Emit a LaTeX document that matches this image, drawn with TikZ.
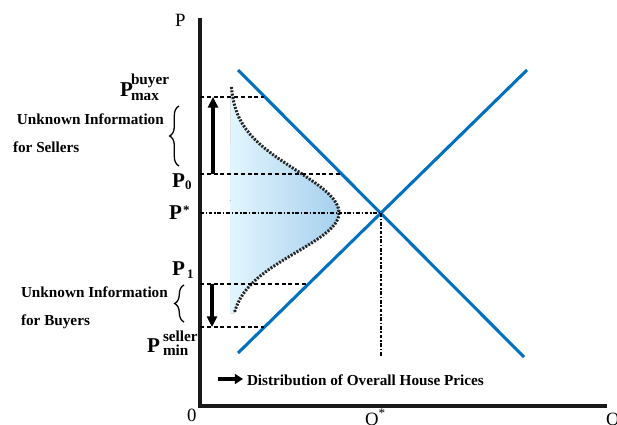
\documentclass[tikz,border=0pt]{standalone}
\usepackage{fontspec}
\setmainfont{Liberation Serif}
\usetikzlibrary{arrows.meta,decorations.pathreplacing}
\definecolor{lineblue}{RGB}{0,112,192}
\definecolor{bellleft}{RGB}{226,245,253}
\definecolor{bellright}{RGB}{165,208,238}
\definecolor{belldot}{RGB}{35,35,35}
\begin{document}
\begin{tikzpicture}[x=0.03cm,y=-0.03cm,
  every node/.style={inner sep=0pt,outer sep=0pt},
  axis/.style={line width=2.8pt,draw=black!90},
  sdline/.style={line width=2.6pt,draw=lineblue},
  guide/.style={line width=1.3pt,dash pattern=on 3.4pt off 2.4pt},
  dashdot/.style={line width=1.4pt,dash pattern=on 3.2pt off 1.5pt on 1.2pt off 1.5pt},
  bell/.style={line width=2.6pt,draw=belldot,dash pattern=on 1.6pt off 1.3pt},
  move/.style={line width=3pt,-{Triangle[length=9pt,width=8.5pt]}},
  bracket/.style={line width=1.1pt,decorate,decoration={brace,amplitude=8pt}},
  axlbl/.style={font=\fontsize{16}{18}\selectfont},
  plbl/.style={font=\fontsize{18}{20}\selectfont\bfseries},
  scrpt/.style={font=\fontsize{13}{15}\selectfont\bfseries},
  idx/.style={font=\fontsize{11}{13}\selectfont\bfseries},
  info/.style={font=\fontsize{13}{15}\selectfont\bfseries}]
\useasboundingbox (0,0) rectangle (617,425);

% axes
\coordinate (orig) at (200,406);
\coordinate (ptop) at (200,18);
\coordinate (qend) at (607,406);
\draw[axis] (ptop) -- (orig) -- (qend);
\node[axlbl,anchor=base west] (plab) at (175,27) {P};
\node[axlbl,anchor=base west] (zero) at (187,421) {0};
\node[axlbl,anchor=base west] (qstar) at (365,425) {Q\textsuperscript{*}};
\node[axlbl,anchor=base west] (qlab) at (606,425) {Q};

% distribution of prices
\fill[left color=bellleft,right color=bellright] (231,87)
  -- plot[domain=87:213,samples=60,smooth] ({230+109*exp(-(\x-213)*(\x-213)/3666)},\x)
  -- plot[domain=213:313,samples=50,smooth] ({230+109*exp(-(\x-213)*(\x-213)/3100)},\x)
  -- (230,313) -- cycle;
\draw[bell] plot[domain=87:213,samples=60,smooth] ({230+109*exp(-(\x-213)*(\x-213)/3666)},\x);
\draw[bell] plot[domain=213:313,samples=50,smooth] ({230+109*exp(-(\x-213)*(\x-213)/3100)},\x);

% demand and supply
\coordinate (d1) at (238,70);
\coordinate (d2) at (524,357);
\coordinate (s1) at (238,353);
\coordinate (s2) at (527,70);
\coordinate (eq) at (intersection of d1--d2 and s1--s2);
\coordinate (eqbase) at (eq |- 0,357);
\draw[sdline] (d1) -- (d2);
\draw[sdline] (s1) -- (s2);

% price levels
\coordinate (pmax) at (200,97);
\coordinate (pmaxend) at (264,97);
\coordinate (pzero) at (200,174);
\coordinate (pzeroend) at (340,174);
\coordinate (pstar) at (eq -| orig);
\coordinate (pone) at (200,284);
\coordinate (poneend) at (307,284);
\coordinate (pmin) at (200,327);
\coordinate (pminend) at (264,327);
\draw[guide] (pmax) -- (pmaxend);
\draw[guide] (pzero) -- (pzeroend);
\draw[guide] (pone) -- (poneend);
\draw[guide] (pmin) -- (pminend);
\draw[dashdot] (pstar) -- (eq);
\draw[dashdot,line width=1.3pt] (eq) -- (eqbase);

% moves
\coordinate (upfrom) at (213,174);
\coordinate (upto) at (213,97);
\coordinate (dnfrom) at (212,284);
\coordinate (dnto) at (212,327);
\draw[move] (upfrom) -- (upto);
\draw[move] (dnfrom) -- (dnto);

% price labels
\node[plbl,anchor=base west] (pmaxp) at (120,97) {P};
\node[scrpt,anchor=base west] (pmaxsup) at (131,85) {buyer};
\node[scrpt,anchor=base west] (pmaxsub) at (131,101) {max};
\node[plbl,anchor=base west] (pzerop) at (172,187) {P};
\node[idx,anchor=base west] (pzerosub) at (185,189) {0};
\node[plbl,anchor=base west] (pstarp) at (169,219) {P};
\node[idx,anchor=base west] (pstarsup) at (183,214) {*};
\node[plbl,anchor=base west] (ponep) at (172,275) {P};
\node[idx,anchor=base west] (ponesub) at (187,278) {1};
\node[plbl,anchor=base west] (pminp) at (147,352) {P};
\node[scrpt,anchor=base west] (pminsup) at (163,341) {seller};
\node[scrpt,anchor=base west] (pminsub) at (163,355) {min};

% unknown information
\coordinate (sbrlo) at (179,166);
\coordinate (sbrhi) at (179,106);
\draw[bracket] (sbrlo) -- (sbrhi);
\node[info,anchor=base west] (sell1) at (17,125) {Unknown Information};
\node[info,anchor=base west] (sell2) at (13,153) {for Sellers};
\coordinate (bbrlo) at (184,322);
\coordinate (bbrhi) at (184,285);
\draw[bracket] (bbrlo) -- (bbrhi);
\node[info,anchor=base west] (buy1) at (21,297) {Unknown Information};
\node[info,anchor=base west] (buy2) at (21,325) {for Buyers};

% legend
\coordinate (legfrom) at (218,379);
\coordinate (legto) at (243,379);
\draw[move,-{Triangle[length=7pt,width=8.5pt]}] (legfrom) -- (legto);
\node[info,anchor=base west] (legtext) at (247,385) {Distribution of Overall House Prices};
\end{tikzpicture}
\end{document}
